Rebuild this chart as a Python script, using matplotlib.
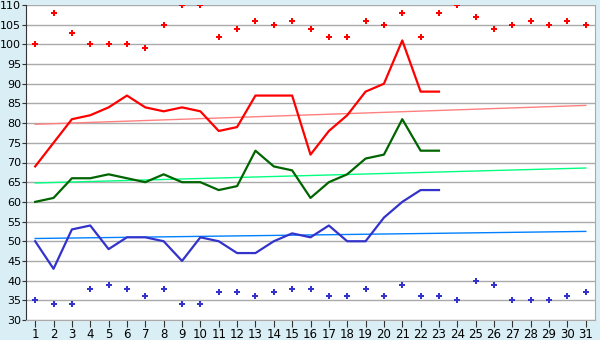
import matplotlib.pyplot as plt

days = list(range(1, 32))
max_pts = [100, 108, 103, 100, 100, 100, 99, 105, 110, 110, 102, 104, 106, 105, 106, 104,
           102, 102, 106, 105, 108, 102, 108, 110, 107, 104, 105, 106, 105, 106, 105]
min_pts = [35, 34, 34, 38, 39, 38, 36, 38, 34, 34, 37, 37, 36, 37, 38, 38,
           36, 36, 38, 36, 39, 36, 36, 35, 40, 39, 35, 35, 35, 36, 37]

line_days = list(range(1, 24))
high = [69, 75, 81, 82, 84, 87, 84, 83, 84, 83, 78, 79, 87, 87, 87, 72, 78, 82, 88, 90, 101, 88, 88]
mid = [60, 61, 66, 66, 67, 66, 65, 67, 65, 65, 63, 64, 73, 69, 68, 61, 65, 67, 71, 72, 81, 73, 73]
low = [50, 43, 53, 54, 48, 51, 51, 50, 45, 51, 50, 47, 47, 50, 52, 51, 54, 50, 50, 56, 60, 63, 63]

trend_days = [1, 31]
trend_high = [79.7, 84.5]
trend_mid = [64.8, 68.6]
trend_low = [50.7, 52.5]

bg = "#d9eef5"
fig = plt.figure(figsize=(6, 3.4), dpi=100, facecolor=bg)
ax = fig.add_axes([26 / 600, 1 - 320 / 340, 569 / 600, 315 / 340])
ax.set_facecolor("white")

ax.plot(trend_days, trend_high, color="#ff8080", lw=1)
ax.plot(trend_days, trend_mid, color="#00ff80", lw=1)
ax.plot(trend_days, trend_low, color="#0080ff", lw=1)

ax.plot(line_days, high, color="#ff0000", lw=1.6)
ax.plot(line_days, mid, color="#006400", lw=1.6)
ax.plot(line_days, low, color="#3333cc", lw=1.6)

ax.plot(days, max_pts, "P", color="#ff0000", ms=4.5, mew=0, ls="none")
ax.plot(days, min_pts, "P", color="#3333cc", ms=4.5, mew=0, ls="none")

ax.set_xlim(0.5, 31.5)
ax.set_ylim(30, 110)
ax.set_xticks(days)
ax.set_yticks(range(30, 111, 5))
ax.grid(axis="y", color="#aaaaaa", lw=1)
ax.set_axisbelow(True)
for s in ["top", "right", "bottom"]:
    ax.spines[s].set_color("#aaaaaa")
ax.spines["left"].set_color("#333333")
ax.spines["top"].set_visible(False)
ax.tick_params(axis="x", length=5, color="#333333", labelsize=8.5, pad=1)
ax.tick_params(axis="y", length=3, color="#333333", labelsize=8, pad=0.5)

fig.savefig("out.png", dpi=100, facecolor=bg)
